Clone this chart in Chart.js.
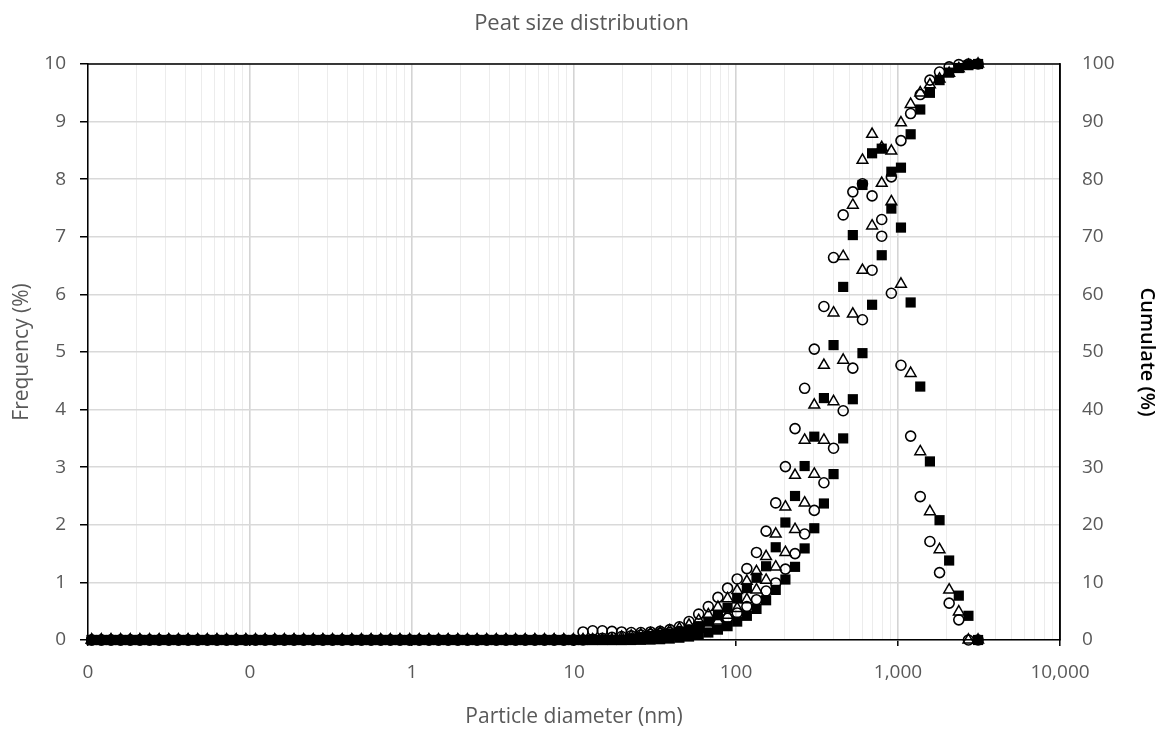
<!DOCTYPE html>
<html>
<head>
<meta charset="utf-8">
<title>Peat size distribution</title>
<script src="https://cdn.jsdelivr.net/npm/chart.js@4.4.1/dist/chart.umd.min.js"></script>
<style>
  html, body { margin: 0; padding: 0; background: #ffffff; }
  #wrap { width: 1163px; height: 733px; }
</style>
</head>
<body>
<div id="wrap"><canvas id="chart" width="1163" height="733"></canvas></div>
<script>
// Particle size classes (nm), log-spaced
const sizes = [
  0.01054, 0.01209, 0.01387, 0.01590, 0.01824, 0.02091, 0.02398, 0.02750, 0.03154, 0.03617,
  0.04148, 0.04756, 0.05454, 0.06254, 0.07172, 0.08225, 0.09432, 0.1082, 0.1240, 0.1422,
  0.1631, 0.1870, 0.2144, 0.2459, 0.2820, 0.3234, 0.3708, 0.4253, 0.4877, 0.5592,
  0.6413, 0.7353, 0.8432, 0.9670, 1.109, 1.272, 1.458, 1.672, 1.918, 2.199,
  2.522, 2.892, 3.316, 3.803, 4.361, 5.001, 5.735, 6.577, 7.542, 8.649,
  9.918, 11.37, 13.04, 14.96, 17.15, 19.67, 22.56, 25.87, 29.66, 34.02,
  39.01, 44.73, 51.30, 58.83, 67.46, 77.36, 88.71, 101.7, 116.7, 133.8,
  153.4, 175.9, 201.8, 231.4, 265.3, 304.3, 348.9, 400.1, 458.8, 526.2,
  603.4, 691.9, 793.5, 909.9, 1043, 1197, 1372, 1574, 1805, 2069,
  2373, 2721, 3121
];

// Frequency (%) per size class
const freqCircle = [
  0, 0, 0, 0, 0, 0, 0, 0, 0, 0,
  0, 0, 0, 0, 0, 0, 0, 0, 0, 0,
  0, 0, 0, 0, 0, 0, 0, 0, 0, 0,
  0, 0, 0, 0, 0, 0, 0, 0, 0, 0,
  0, 0, 0, 0, 0, 0, 0, 0, 0, 0,
  0, 0.14, 0.16, 0.16, 0.15, 0.14, 0.13, 0.13, 0.14, 0.15,
  0.18, 0.23, 0.32, 0.45, 0.58, 0.74, 0.90, 1.06, 1.24, 1.52,
  1.89, 2.38, 3.01, 3.67, 4.37, 5.05, 5.79, 6.64, 7.38, 7.78,
  7.92, 7.71, 7.01, 6.02, 4.77, 3.54, 2.49, 1.71, 1.17, 0.64,
  0.35, 0, 0
];
const freqTriangle = [
  0, 0, 0, 0, 0, 0, 0, 0, 0, 0,
  0, 0, 0, 0, 0, 0, 0, 0, 0, 0,
  0, 0, 0, 0, 0, 0, 0, 0, 0, 0,
  0, 0, 0, 0, 0, 0, 0, 0, 0, 0,
  0, 0, 0, 0, 0, 0, 0, 0, 0, 0,
  0, 0, 0, 0, 0, 0.05, 0.07, 0.09, 0.11, 0.13,
  0.16, 0.20, 0.26, 0.34, 0.44, 0.57, 0.72, 0.86, 1.02, 1.19,
  1.45, 1.84, 2.31, 2.86, 3.47, 4.08, 4.77, 5.68, 6.66, 7.55,
  8.33, 8.78, 8.55, 7.61, 6.18, 4.63, 3.27, 2.23, 1.57, 0.87,
  0.49, 0, 0
];
const freqSquare = [
  0, 0, 0, 0, 0, 0, 0, 0, 0, 0,
  0, 0, 0, 0, 0, 0, 0, 0, 0, 0,
  0, 0, 0, 0, 0, 0, 0, 0, 0, 0,
  0, 0, 0, 0, 0, 0, 0, 0, 0, 0,
  0, 0, 0, 0, 0, 0, 0, 0, 0, 0,
  0, 0, 0, 0, 0, 0, 0.03, 0.05, 0.07, 0.09,
  0.11, 0.14, 0.18, 0.24, 0.32, 0.43, 0.56, 0.72, 0.90, 1.08,
  1.28, 1.61, 2.04, 2.50, 3.02, 3.53, 4.20, 5.12, 6.13, 7.03,
  7.90, 8.45, 8.53, 8.13, 7.16, 5.86, 4.40, 3.10, 2.08, 1.38,
  0.77, 0.42, 0
];

// Cumulative undersize (%)
const cumCircle = [
  0, 0, 0, 0, 0, 0, 0, 0, 0, 0,
  0, 0, 0, 0, 0, 0, 0, 0, 0, 0,
  0, 0, 0, 0, 0, 0, 0, 0, 0, 0,
  0, 0, 0, 0, 0, 0, 0, 0, 0, 0,
  0, 0, 0, 0, 0, 0, 0, 0, 0, 0,
  0, 0, 0.14, 0.30, 0.46, 0.61, 0.75, 0.88, 1.01, 1.15,
  1.30, 1.48, 1.71, 2.03, 2.48, 3.06, 3.80, 4.70, 5.80, 7.00,
  8.50, 9.90, 12.3, 15.0, 18.4, 22.5, 27.3, 33.3, 39.8, 47.2,
  55.6, 64.2, 73.0, 80.4, 86.7, 91.4, 94.7, 97.2, 98.6, 99.5,
  99.9, 100, 100
];
const cumTriangle = [
  0, 0, 0, 0, 0, 0, 0, 0, 0, 0,
  0, 0, 0, 0, 0, 0, 0, 0, 0, 0,
  0, 0, 0, 0, 0, 0, 0, 0, 0, 0,
  0, 0, 0, 0, 0, 0, 0, 0, 0, 0,
  0, 0, 0, 0, 0, 0, 0, 0, 0, 0,
  0, 0, 0, 0, 0, 0, 0.06, 0.15, 0.28, 0.45,
  0.70, 1.00, 1.40, 1.90, 2.50, 3.30, 4.30, 5.50, 7.00, 8.70,
  10.4, 12.7, 15.2, 19.2, 23.8, 28.8, 34.7, 41.4, 48.6, 56.6,
  64.2, 71.9, 79.3, 84.9, 89.8, 93.0, 95.0, 96.4, 97.4, 98.4,
  99.2, 99.8, 100
];
const cumSquare = [
  0, 0, 0, 0, 0, 0, 0, 0, 0, 0,
  0, 0, 0, 0, 0, 0, 0, 0, 0, 0,
  0, 0, 0, 0, 0, 0, 0, 0, 0, 0,
  0, 0, 0, 0, 0, 0, 0, 0, 0, 0,
  0, 0, 0, 0, 0, 0, 0, 0, 0, 0,
  0, 0, 0, 0, 0, 0, 0, 0.03, 0.07, 0.14,
  0.25, 0.40, 0.60, 0.90, 1.30, 1.80, 2.40, 3.20, 4.20, 5.40,
  6.90, 8.70, 10.5, 12.7, 15.9, 19.4, 23.7, 28.8, 35.0, 41.8,
  49.8, 58.2, 66.8, 74.9, 82.0, 87.8, 92.1, 95.0, 97.2, 98.5,
  99.3, 99.8, 100
];

// Axis ranges and tick settings
const xMin = 0.01, xMax = 10000;
const freqMax = 10, freqStep = 1;
const cumMax = 100, cumStep = 10;

const FONT = "'Open Sans', 'Noto Sans', sans-serif";
const GREY_TEXT = '#595959';

function isDecade(v) {
  const l = Math.log10(v);
  return Math.abs(l - Math.round(l)) < 1e-6;
}
function toPoints(values) {
  return sizes.map((d, i) => ({ x: d, y: values[i] }));
}

const markers = {
  circle:   { pointStyle: 'circle',   pointRadius: 5.0, pointBorderWidth: 1.6, pointBackgroundColor: 'rgba(0,0,0,0)' },
  triangle: { pointStyle: 'triangle', pointRadius: 6.2, pointBorderWidth: 1.5, pointBackgroundColor: 'rgba(0,0,0,0)' },
  square:   { pointStyle: 'rect',     pointRadius: 7.2, pointBorderWidth: 0,   pointBackgroundColor: '#000000' }
};

function series(label, values, marker, axis) {
  return Object.assign({
    label: label,
    data: toPoints(values),
    yAxisID: axis,
    showLine: false,
    clip: false,
    pointBorderColor: '#000000',
    pointHoverRadius: 0
  }, marker);
}

// Draws the top and right edges of the plot frame
const frameEdges = {
  id: 'frameEdges',
  beforeDatasetsDraw(chart) {
    const { ctx, chartArea: a } = chart;
    ctx.save();
    ctx.strokeStyle = '#000000';
    ctx.lineWidth = 1.5;
    ctx.beginPath();
    ctx.moveTo(a.left, a.top);
    ctx.lineTo(a.right, a.top);
    ctx.lineTo(a.right, a.bottom);
    ctx.stroke();
    ctx.restore();
  }
};

new Chart(document.getElementById('chart'), {
  type: 'scatter',
  data: {
    datasets: [
      series('Frequency ■', freqSquare, markers.square, 'y'),
      series('Cumulate ■', cumSquare, markers.square, 'y2'),
      series('Frequency △', freqTriangle, markers.triangle, 'y'),
      series('Cumulate △', cumTriangle, markers.triangle, 'y2'),
      series('Frequency ○', freqCircle, markers.circle, 'y'),
      series('Cumulate ○', cumCircle, markers.circle, 'y2')
    ]
  },
  options: {
    responsive: false,
    animation: false,
    devicePixelRatio: 1,
    layout: { padding: 0 },
    plugins: {
      legend: { display: false },
      tooltip: { enabled: false },
      title: {
        display: true,
        text: 'Peat size distribution',
        color: GREY_TEXT,
        font: { family: FONT, size: 22, weight: 'normal' },
        padding: { top: 11, bottom: 26.6 }
      }
    },
    scales: {
      x: {
        type: 'logarithmic',
        position: 'bottom',
        min: xMin,
        max: xMax,
        afterBuildTicks(scale) {
          const ticks = [];
          for (let e = -2; e <= 4; e++) {
            for (let m = 1; m <= 9; m++) {
              const v = Number((m * Math.pow(10, e)).toPrecision(6));
              if (v > xMax) break;
              ticks.push({ value: v });
            }
          }
          scale.ticks = ticks;
        },
        afterFit(scale) { scale.height = 93; },
        ticks: {
          autoSkip: false,
          maxRotation: 0,
          minRotation: 0,
          padding: 15,
          color: GREY_TEXT,
          font: { family: FONT, size: 19 },
          callback(value) {
            return isDecade(value) ? Math.round(value).toLocaleString('en-US') : '';
          }
        },
        grid: {
          color: ctx => (ctx.tick && isDecade(ctx.tick.value)) ? '#d4d4d4' : '#ececec',
          lineWidth: ctx => (ctx.tick && isDecade(ctx.tick.value)) ? 1.6 : 1,
          tickColor: ctx => (ctx.tick && isDecade(ctx.tick.value)) ? '#000000' : 'rgba(0,0,0,0)',
          tickLength: 6,
          tickWidth: 1.5
        },
        border: { display: true, color: '#000000', width: 1.5 },
        title: {
          display: true,
          text: 'Particle diameter (nm)',
          color: GREY_TEXT,
          font: { family: FONT, size: 21 },
          padding: { top: 0, bottom: 3 }
        }
      },
      y: {
        position: 'left',
        min: 0,
        max: freqMax,
        afterFit(scale) { scale.width = 88; },
        ticks: {
          stepSize: freqStep,
          padding: 14,
          color: GREY_TEXT,
          font: { family: FONT, size: 19 }
        },
        grid: {
          color: '#d9d9d9',
          lineWidth: 1.5,
          tickColor: '#000000',
          tickLength: 8,
          tickWidth: 1.5
        },
        border: { display: true, color: '#000000', width: 1.5 },
        title: {
          display: true,
          text: 'Frequency (%)',
          color: GREY_TEXT,
          font: { family: FONT, size: 21 },
          padding: { top: 9, bottom: 0 }
        }
      },
      y2: {
        position: 'right',
        min: 0,
        max: cumMax,
        afterFit(scale) { scale.width = 103; },
        ticks: {
          stepSize: cumStep,
          padding: 22,
          color: GREY_TEXT,
          font: { family: FONT, size: 19 }
        },
        grid: { drawOnChartArea: false, drawTicks: false },
        border: { display: true, color: '#000000', width: 1.5 },
        title: {
          display: true,
          text: 'Cumulate (%)',
          color: '#000000',
          font: { family: FONT, size: 20, weight: '600' },
          padding: { top: 4, bottom: 0 }
        }
      }
    }
  },
  plugins: [frameEdges]
});
</script>
</body>
</html>
